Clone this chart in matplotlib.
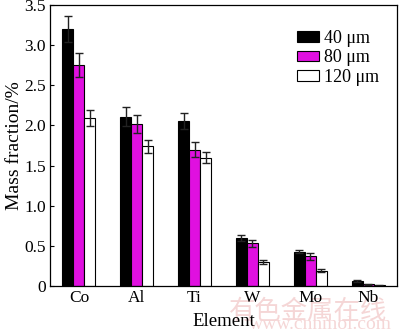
import matplotlib
matplotlib.use("Agg")
import matplotlib.pyplot as plt
import numpy as np

elements = ["Co", "Al", "Ti", "W", "Mo", "Nb"]
sizes = ["40 \u03bcm", "80 \u03bcm", "120 \u03bcm"]

mass_40 = [3.20, 2.11, 2.05, 0.60, 0.43, 0.06]
mass_80 = [2.75, 2.02, 1.70, 0.53, 0.37, 0.02]
mass_120 = [2.09, 1.74, 1.60, 0.30, 0.19, 0.01]

err_40 = [0.16, 0.12, 0.10, 0.04, 0.02, 0.01]
err_80 = [0.15, 0.11, 0.09, 0.04, 0.04, 0.005]
err_120 = [0.10, 0.08, 0.07, 0.02, 0.02, 0.005]

colors = ["#000000", "#e010e0", "#ffffff"]

plt.rcParams["font.family"] = ["Liberation Serif", "DejaVu Serif"]
plt.rcParams["font.size"] = 12

fig = plt.figure(figsize=(4.0, 3.33), dpi=100)
ax = fig.add_axes([0.125, 0.141, 0.8675, 0.844])

x = np.arange(len(elements))
w = 0.19
series = [(mass_40, err_40), (mass_80, err_80), (mass_120, err_120)]
for i, (vals, errs) in enumerate(series):
    ax.bar(x + (i - 1) * w, vals, w, yerr=errs, color=colors[i],
           edgecolor="black", linewidth=0.8, label=sizes[i],
           error_kw={"ecolor": "#222222", "elinewidth": 1.0,
                     "capsize": 3, "capthick": 1.0})

ax.set_xlim(-0.5, 5.5)
ax.set_ylim(0, 3.5)
ax.set_xticks(x)
ax.set_xticklabels(elements, fontsize=12.5)
ax.set_yticks([0, 0.5, 1.0, 1.5, 2.0, 2.5, 3.0, 3.5])
ax.set_yticklabels(["0", "0.5", "1.0", "1.5", "2.0", "2.5", "3.0", "3.5"],
                   fontsize=12.5)
ax.tick_params(axis="y", direction="in", length=3, width=0.8, pad=3)
ax.tick_params(axis="x", length=0, pad=3)
for sp in ax.spines.values():
    sp.set_linewidth(0.9)

ax.set_xlabel("Element", fontsize=13.5, labelpad=5)
ax.set_ylabel("Mass fraction/%", fontsize=14, labelpad=1)

ax.legend(loc="upper right", bbox_to_anchor=(0.985, 0.955), frameon=False,
          fontsize=13, handlelength=1.2, handleheight=0.55,
          handletextpad=0.3, labelspacing=0.12, borderpad=0.2)

# faint site watermark along the bottom edge, kept behind the axes text
fig.text(0.77, 0.065, "有色金属在线", family=["Noto Sans CJK SC"], fontsize=19,
         color="#f5d6d6", ha="center", va="center", zorder=-1)
fig.text(0.8, 0.0, "www.cnnmol.com", fontsize=14, color="#f5d6d6",
         ha="center", va="bottom", zorder=-1)

fig.savefig("out.png", dpi=100)
